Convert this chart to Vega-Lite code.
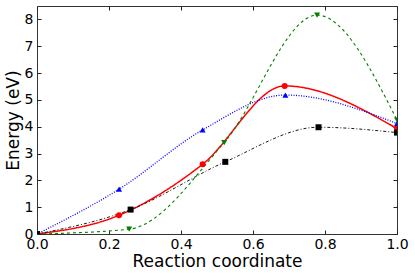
{
  "$schema": "https://vega.github.io/schema/vega-lite/v6.json",
  "autosize": "none",
  "width": 360,
  "height": 228,
  "padding": {"left": 37, "top": 6, "right": 18, "bottom": 43},
  "background": "white",
  "config": {
    "view": {"stroke": "#333", "strokeWidth": 1},
    "font": "DejaVu Sans",
    "axis": {"grid": false, "domain": false, "tickColor": "#222", "tickSize": -4, "labelColor": "black", "titleColor": "black", "labelFont": "DejaVu Sans", "titleFont": "DejaVu Sans", "labelFontSize": 14, "titleFontSize": 17, "titleFontWeight": "normal", "labelFlush": false, "labelOverlap": false}
  },
  "data": {"values": [
    {"x": 0.0, "E": 0.0, "s": "red"},
    {"x": 0.228, "E": 0.7, "s": "red"},
    {"x": 0.46, "E": 2.6, "s": "red"},
    {"x": 0.688, "E": 5.52, "s": "red"},
    {"x": 1.0, "E": 3.93, "s": "red"},
    {"x": 0.0, "E": 0.0, "s": "blue"},
    {"x": 0.228, "E": 1.67, "s": "blue"},
    {"x": 0.46, "E": 3.88, "s": "blue"},
    {"x": 0.69, "E": 5.18, "s": "blue"},
    {"x": 1.0, "E": 4.12, "s": "blue"},
    {"x": 0.0, "E": 0.0, "s": "green"},
    {"x": 0.256, "E": 0.18, "s": "green"},
    {"x": 0.52, "E": 3.41, "s": "green"},
    {"x": 0.778, "E": 8.16, "s": "green"},
    {"x": 1.0, "E": 4.25, "s": "green"},
    {"x": 0.0, "E": 0.0, "s": "black"},
    {"x": 0.26, "E": 0.91, "s": "black"},
    {"x": 0.523, "E": 2.69, "s": "black"},
    {"x": 0.782, "E": 3.98, "s": "black"},
    {"x": 1.0, "E": 3.78, "s": "black"}
  ]},
  "encoding": {
    "x": {"field": "x", "type": "quantitative", "scale": {"domain": [0, 1], "nice": false, "zero": false}},
    "y": {"field": "E", "type": "quantitative", "scale": {"domain": [0, 8.5], "nice": false}},
    "color": {"field": "s", "type": "nominal", "legend": null, "scale": {"domain": ["red", "blue", "green", "black"], "range": ["#ff0000", "#0000ff", "#008000", "#000000"]}}
  },
  "layer": [
    {
      "mark": {"type": "line", "interpolate": "monotone", "clip": true},
      "encoding": {
        "strokeDash": {"field": "s", "type": "nominal", "legend": null, "scale": {"domain": ["red", "blue", "green", "black"], "range": [[1, 0], [1, 1.5], [3, 3], [3, 2, 1, 2]]}},
        "strokeWidth": {"field": "s", "type": "nominal", "legend": null, "scale": {"domain": ["red", "blue", "green", "black"], "range": [1.5, 0.9, 1.5, 1.1]}},
        "x": {"field": "x", "type": "quantitative", "axis": {"orient": "bottom", "values": [0, 0.2, 0.4, 0.6, 0.8, 1.0], "format": ".1f", "title": "Reaction coordinate", "labelPadding": 7.5, "titlePadding": 2}},
        "y": {"field": "E", "type": "quantitative", "axis": {"orient": "left", "values": [0, 1, 2, 3, 4, 5, 6, 7, 8], "format": "d", "title": "Energy (eV)", "labelPadding": 8, "titlePadding": 2}}
      }
    },
    {
      "mark": {"type": "point", "filled": true, "opacity": 1, "clip": true},
      "encoding": {
        "shape": {"field": "s", "type": "nominal", "legend": null, "scale": {"domain": ["red", "blue", "green", "black"], "range": ["circle", "triangle-up", "triangle-down", "square"]}},
        "size": {"value": 36},
        "x": {"field": "x", "type": "quantitative", "axis": {"orient": "top", "values": [0, 0.2, 0.4, 0.6, 0.8, 1.0], "labels": false, "title": null}},
        "y": {"field": "E", "type": "quantitative", "axis": {"orient": "right", "values": [0, 1, 2, 3, 4, 5, 6, 7, 8], "labels": false, "title": null}}
      }
    }
  ],
  "resolve": {"axis": {"x": "independent", "y": "independent"}}
}
